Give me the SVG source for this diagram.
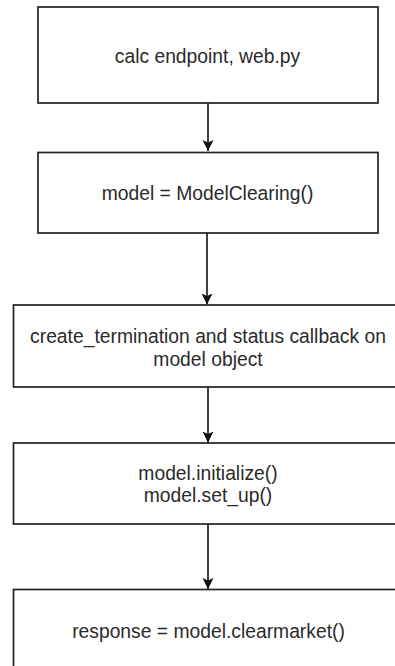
<svg xmlns="http://www.w3.org/2000/svg" width="395" height="666" viewBox="0 0 395 666">
  <style>
    .box { fill: #ffffff; stroke: #222222; stroke-width: 1.7; }
    .lbl { font-family: "Liberation Sans", Arial, sans-serif; font-size: 19.3px; fill: #2a2a2a; text-anchor: middle; }
    .edge { stroke: #111111; stroke-width: 1.6; fill: none; }
  </style>
  <defs>
    <marker id="arrow" markerUnits="userSpaceOnUse" markerWidth="12" markerHeight="12" viewBox="0 0 12 12" refX="11" refY="6" orient="auto">
      <path d="M0,0.5 L11,6 L0,11.5 L2.5,6 Z" fill="#111111"/>
    </marker>
  </defs>
  <rect width="395" height="666" fill="#ffffff"/>

  <!-- flow connectors -->
  <g id="edges">
    <line class="edge" x1="208" y1="103" x2="208" y2="151" marker-end="url(#arrow)"/>
    <line class="edge" x1="207" y1="233" x2="207" y2="304.5" marker-end="url(#arrow)"/>
    <line class="edge" x1="208" y1="387" x2="208" y2="442.5" marker-end="url(#arrow)"/>
    <line class="edge" x1="208" y1="524" x2="208" y2="589" marker-end="url(#arrow)"/>
  </g>

  <g id="calc-endpoint">
    <rect class="box" x="38" y="7" width="340" height="96"/>
    <text class="lbl" x="207.5" y="62.5">calc endpoint, web.py</text>
  </g>

  <g id="model-create">
    <rect class="box" x="38" y="152.5" width="340" height="80.5"/>
    <text class="lbl" x="207.5" y="199.5">model = ModelClearing()</text>
  </g>

  <g id="callbacks">
    <rect class="box" x="13.5" y="305" width="392" height="82"/>
    <text class="lbl" x="208" y="343">create_termination and status callback on</text>
    <text class="lbl" x="208" y="365.5">model object</text>
  </g>

  <g id="init-setup">
    <rect class="box" x="13.5" y="443" width="392" height="81"/>
    <text class="lbl" x="208" y="479.5">model.initialize()</text>
    <text class="lbl" x="208" y="502">model.set_up()</text>
  </g>

  <g id="clear-market">
    <rect class="box" x="13.5" y="589.5" width="392" height="90"/>
    <text class="lbl" x="208.5" y="638">response = model.clearmarket()</text>
  </g>
</svg>
